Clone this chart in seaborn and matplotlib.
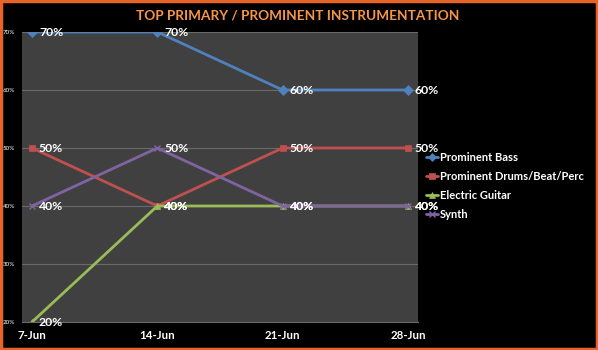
import matplotlib
matplotlib.use("Agg")
import matplotlib.pyplot as plt
import seaborn as sns
import pandas as pd
from matplotlib.patches import Rectangle
from matplotlib.ticker import FuncFormatter

dates = ["7-Jun", "14-Jun", "21-Jun", "28-Jun"]
bass = [0.70, 0.70, 0.60, 0.60]
drums = [0.50, 0.40, 0.50, 0.50]
guitar = [0.20, 0.40, 0.40, 0.40]
synth = [0.40, 0.50, 0.40, 0.40]
series_names = ["Prominent Bass", "Prominent Drums/Beat/Perc", "Electric Guitar", "Synth"]
series_values = [bass, drums, guitar, synth]
colors = ["#4f81bd", "#c0504d", "#9bbb59", "#8064a2"]
markers = ["D", "s", "^", "x"]
title = "TOP PRIMARY / PROMINENT INSTRUMENTATION"

sns.set_style("dark")
plt.rcParams["font.family"] = ["Lato", "DejaVu Sans"]

rows = []
for name, vals in zip(series_names, series_values):
    for i, v in enumerate(vals):
        rows.append({"pos": i, "value": v, "series": name})
df = pd.DataFrame(rows)

fig = plt.figure(figsize=(5.98, 3.5), dpi=100, facecolor="black")
ax = fig.add_axes([22/598, 28/350, (418-22)/598, (322-32)/350])
ax.set_facecolor("#404040")

for name, vals, c, m in zip(series_names, series_values, colors, markers):
    sub = df[df["series"] == name]
    sns.lineplot(data=sub, x="pos", y="value", ax=ax, color=c, marker=m,
                 markersize=5, markeredgecolor=c,
                 markeredgewidth=1 if m == "x" else 0.5,
                 linewidth=2, label=name)
    for i, v in enumerate(vals):
        ax.annotate(f"{int(round(v*100))}%", (i, v), xytext=(5, 0),
                    textcoords="offset points", color="white",
                    fontsize=8.8, fontweight="bold", va="center", ha="left",
                    annotation_clip=False)

ax.set_xlim(-0.08, 3.08)
ax.set_ylim(0.2, 0.7)
ax.set_yticks([0.2, 0.3, 0.4, 0.5, 0.6, 0.7])
ax.yaxis.set_major_formatter(FuncFormatter(lambda v, p: f"{int(round(v*100))}%"))
ax.set_xticks(range(len(dates)))
ax.set_xticklabels(dates)
ax.tick_params(axis="y", colors="white", labelsize=4.5, length=0, pad=5)
ax.tick_params(axis="x", colors="white", labelsize=8.3, length=0, pad=6)
for lbl in ax.get_xticklabels():
    lbl.set_fontweight("bold")
ax.grid(axis="y", color="#6a6a6a", linewidth=0.8)
ax.grid(axis="x", visible=False)
ax.set_xlabel("")
ax.set_ylabel("")
for s in ax.spines.values():
    s.set_visible(False)
ax.spines["bottom"].set_visible(True)
ax.spines["bottom"].set_color("#6a6a6a")

leg = ax.legend(loc="center left", bbox_to_anchor=(1.0, 0.47), frameon=False,
                fontsize=8, handlelength=1.1, handletextpad=0.2,
                labelspacing=0.72, borderaxespad=0.3, markerscale=0.8)
for t in leg.get_texts():
    t.set_color("white")
    t.set_fontweight("bold")

fig.text(298/598, 1 - 15/350, title, color="#f79646", fontsize=9.8,
         fontweight="bold", ha="center", va="center")

fig.patches.append(Rectangle((0.002, 0.003), 0.996, 0.994, transform=fig.transFigure,
                             fill=False, edgecolor="#e8632a", linewidth=2.5))

fig.savefig("out.png", dpi=100, facecolor="black")
